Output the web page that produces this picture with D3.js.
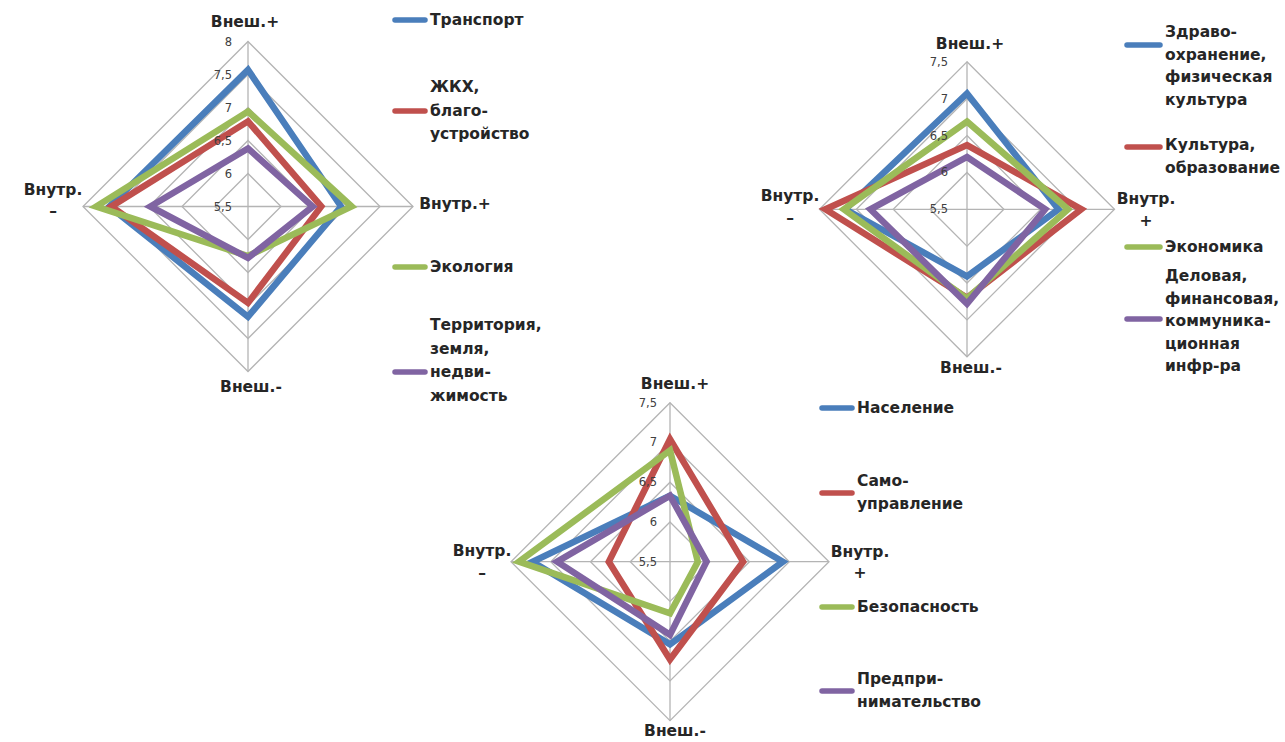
<!DOCTYPE html>
<html><head><meta charset="utf-8">
<script src="https://cdn.jsdelivr.net/npm/d3@7/dist/d3.min.js"></script>
<style>
html,body{margin:0;padding:0;background:#fff;}
svg text{font-family:"DejaVu Sans","Liberation Sans",Arial,sans-serif;}
</style></head>
<body>
<svg id="c" width="1285" height="742"></svg>
<script>
// ---- data ----
const axisKeys = ["Внеш.+", "Внутр.+", "Внеш.-", "Внутр.-"];
const colors = ["#4a7ebb", "#c0504d", "#9bbb59", "#8064a2"];

// chart 1
const ticks1 = [5.5, 6, 6.5, 7, 7.5, 8];
const tickLabels1 = ["5,5", "6", "6,5", "7", "7,5", "8"];
const names1 = [["Транспорт"], ["ЖКХ,", "благо-", "устройство"], ["Экология"], ["Территория,", "земля,", "недви-", "жимость"]];
const transport = [7.57, 6.91, 7.17, 7.6];
const zhkh = [6.79, 6.61, 6.96, 7.57];
const ecology = [6.94, 7.07, 6.25, 7.8];
const territory = [6.38, 6.48, 6.28, 6.98];

// chart 2
const ticks2 = [5.5, 6, 6.5, 7, 7.5];
const tickLabels2 = ["5,5", "6", "6,5", "7", "7,5"];
const names2 = [["Здраво-", "охранение,", "физическая", "культура"], ["Культура,", "образование"], ["Экономика"], ["Деловая,", "финансовая,", "коммуника-", "ционная", "инфр-ра"]];
const health = [7.07, 6.74, 6.41, 7.15];
const culture = [6.37, 7.05, 6.7, 7.42];
const economy = [6.69, 6.87, 6.71, 7.17];
const business = [6.21, 6.56, 6.78, 6.81];

// chart 3
const ticks3 = [5.5, 6, 6.5, 7, 7.5];
const tickLabels3 = ["5,5", "6", "6,5", "7", "7,5"];
const names3 = [["Население"], ["Само-", "управление"], ["Безопасность"], ["Предпри-", "нимательство"]];
const population = [6.33, 6.92, 6.54, 7.23];
const selfgov = [7.04, 6.42, 6.73, 6.27];
const security = [6.9, 5.85, 6.15, 7.4];
const enterprise = [6.33, 5.96, 6.42, 6.92];

const svg = d3.select("#c");
const TXT = "#262626";
const FS = 15.5;

function drawRadar(cfg) {
  const g = svg.append("g").attr("transform", `translate(${cfg.cx},${cfg.cy})`);
  const r = d3.scaleLinear().domain([cfg.ticks[0], cfg.ticks[cfg.ticks.length - 1]]).range([0, cfg.R]);
  const ang = d3.scalePoint().domain(axisKeys).range([0, 2 * Math.PI * 3 / 4]);
  const line = d3.lineRadial().angle((d, i) => ang(axisKeys[i])).radius(d => r(d)).curve(d3.curveLinearClosed);
  // rings
  cfg.ticks.slice(1).forEach(t => {
    g.append("path").attr("d", line(axisKeys.map(() => t)))
      .attr("fill", "none").attr("stroke", "#b4b4b4").attr("stroke-width", 1.3);
  });
  // spokes
  axisKeys.forEach(k => {
    const a = ang(k), R = r(cfg.ticks[cfg.ticks.length - 1]);
    g.append("line").attr("x1", 0).attr("y1", 0)
      .attr("x2", R * Math.sin(a)).attr("y2", -R * Math.cos(a))
      .attr("stroke", "#b4b4b4").attr("stroke-width", 1.3);
  });
  // series
  cfg.series.forEach((s, i) => {
    g.append("path").attr("d", line(s)).attr("fill", "none")
      .attr("stroke", colors[i]).attr("stroke-width", 6.5).attr("stroke-linejoin", "miter");
  });
  // tick labels
  cfg.ticks.forEach((t, i) => {
    g.append("text").attr("x", cfg.tickDx).attr("y", -r(t)).attr("dy", "0.35em")
      .attr("text-anchor", "end").attr("font-size", 11.5).attr("fill", "#404040")
      .text(cfg.tickLabels[i]);
  });
  // axis labels
  cfg.axisLabels.forEach(al => {
    const t = svg.append("text").attr("text-anchor", "middle").attr("font-size", FS)
      .attr("font-weight", "bold").attr("fill", TXT);
    al.lines.forEach((ln, j) => {
      t.append("tspan").attr("x", al.x).attr("y", al.y + j * al.lh).attr("dy", "0.35em").text(ln);
    });
  });
  // legend
  cfg.names.forEach((nm, i) => {
    const L = cfg.legend[i];
    svg.append("line").attr("x1", cfg.lx).attr("x2", cfg.lx + cfg.lw)
      .attr("y1", L.sy).attr("y2", L.sy).attr("stroke", colors[i]).attr("stroke-width", 5.5).attr("stroke-linecap", "round");
    const t = svg.append("text").attr("font-size", FS).attr("font-weight", "bold").attr("fill", TXT);
    nm.forEach((ln, j) => {
      t.append("tspan").attr("x", cfg.tx).attr("y", L.ty + j * cfg.llh).attr("dy", "0.35em").text(ln);
    });
  });
}

drawRadar({
  cx: 248, cy: 206.5, R: 165, ticks: ticks1, tickLabels: tickLabels1, tickDx: -16,
  series: [transport, zhkh, ecology, territory], names: names1,
  axisLabels: [
    {x: 245, y: 22, lines: ["Внеш.+"], lh: 0},
    {x: 251, y: 387, lines: ["Внеш.-"], lh: 0},
    {x: 53, y: 190, lines: ["Внутр.", "–"], lh: 21},
    {x: 455, y: 204, lines: ["Внутр.+"], lh: 0}
  ],
  lx: 395, lw: 30, tx: 430, llh: 23.5,
  legend: [{sy: 20, ty: 20}, {sy: 111, ty: 87}, {sy: 267, ty: 267}, {sy: 372, ty: 325}]
});

drawRadar({
  cx: 967, cy: 209.3, R: 147.5, ticks: ticks2, tickLabels: tickLabels2, tickDx: -19,
  series: [health, culture, economy, business], names: names2,
  axisLabels: [
    {x: 970, y: 44, lines: ["Внеш.+"], lh: 0},
    {x: 971, y: 368, lines: ["Внеш.-"], lh: 0},
    {x: 790, y: 196, lines: ["Внутр.", "–"], lh: 22},
    {x: 1146, y: 199, lines: ["Внутр.", "+"], lh: 22}
  ],
  lx: 1127, lw: 33, tx: 1165, llh: 22.5,
  legend: [{sy: 45, ty: 32}, {sy: 147, ty: 145}, {sy: 247, ty: 247}, {sy: 319, ty: 276}]
});

drawRadar({
  cx: 670, cy: 561.7, R: 159, ticks: ticks3, tickLabels: tickLabels3, tickDx: -13,
  series: [population, selfgov, security, enterprise], names: names3,
  axisLabels: [
    {x: 675, y: 384, lines: ["Внеш.+"], lh: 0},
    {x: 675, y: 731, lines: ["Внеш.-"], lh: 0},
    {x: 482, y: 551, lines: ["Внутр.", "–"], lh: 22},
    {x: 860, y: 552, lines: ["Внутр.", "+"], lh: 21}
  ],
  lx: 822, lw: 30, tx: 857, llh: 23,
  legend: [{sy: 408, ty: 408}, {sy: 493, ty: 481}, {sy: 607, ty: 607}, {sy: 691, ty: 679}]
});
</script>
</body></html>
